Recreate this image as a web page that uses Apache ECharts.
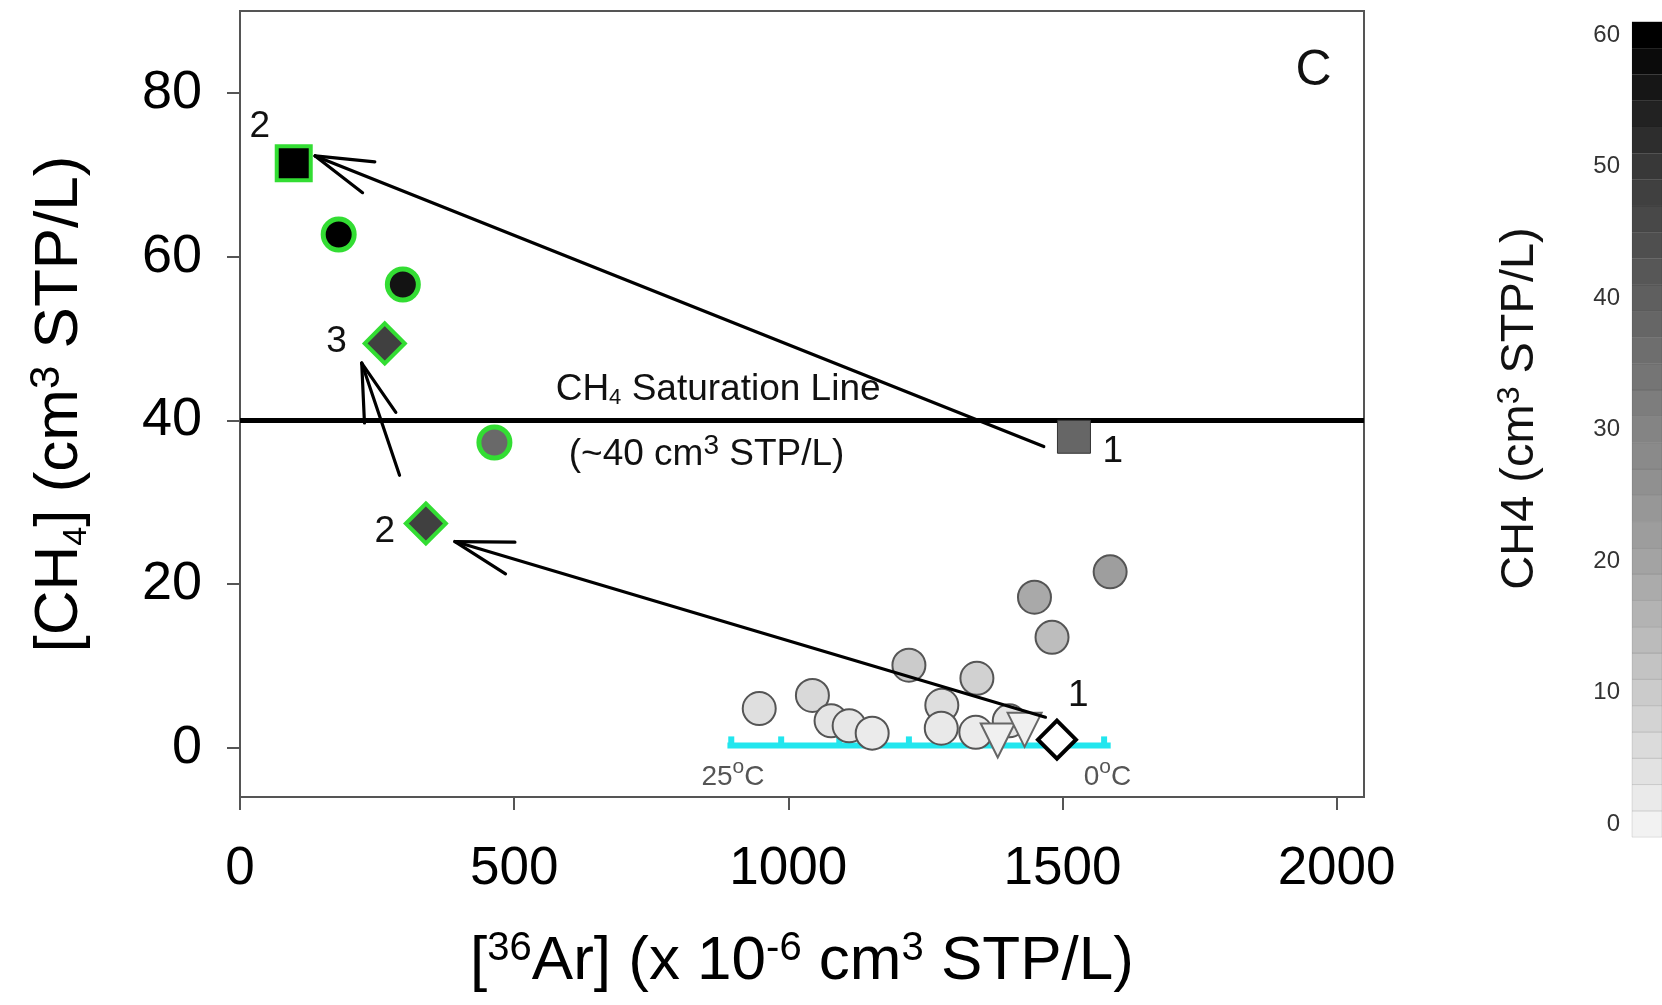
<!DOCTYPE html>
<html><head><meta charset="utf-8">
<script src="https://cdn.jsdelivr.net/npm/echarts@6/dist/echarts.min.js"></script>
<style>html,body{margin:0;padding:0;background:#fff}#c{width:1662px;height:1005px}</style>
</head><body><div id="c"></div>
<script>
// ---------- data ----------
// [36Ar] (x1e-6 cm3 STP/L) and [CH4] (cm3 STP/L)
const clusterAr  = [947, 1044, 1078, 1111, 1153, 1220, 1280, 1279, 1344, 1342, 1403, 1481, 1449, 1587];
const clusterCH4 = [4.8, 6.4, 3.3, 2.7, 1.8, 10.1, 5.2, 2.4, 8.5, 1.9, 3.3, 13.5, 18.4, 21.5];
const greenCircleAr  = [180, 297, 464];
const greenCircleCH4 = [62.7, 56.6, 37.3];
const squareStartAr  = [1521];
const squareStartCH4 = [38.0];
const squareEndAr    = [98];
const squareEndCH4   = [71.4];
const diamondStartAr  = [1490];
const diamondStartCH4 = [1.0];
const diamondLaterAr  = [339, 264];
const diamondLaterCH4 = [27.4, 49.4];
const triangleAr  = [1382, 1431];
const triangleCH4 = [0.9, 2.2];

// arrows (from -> to)
const arrowFromAr  = [1466, 1469, 291];
const arrowFromCH4 = [36.8, 3.75, 33.3];
const arrowToAr    = [137, 392, 222];
const arrowToCH4   = [72.3, 25.2, 47.0];

// CH4 saturation
const saturationCH4 = 40;

// air-saturated water line (25 -> 0 degC)
const solubilityLineAr  = [889, 1588];
const solubilityLineCH4 = [0.3, 0.3];
const tempTickAr  = [896, 987, 1093, 1220, 1385, 1576];
const tempTickCH4 = [0.3, 0.3, 0.3, 0.3, 0.3, 0.3];
const tempLabelAr  = [899, 1582];
const tempLabelCH4 = [-3.6, -3.6];
const tempLabelText = ['25', '0'];

// text annotations
const pointLabelAr  = [36, 176, 264, 1592, 1529];
const pointLabelCH4 = [75.9, 49.6, 26.4, 36.2, 6.4];
const pointLabelText = ['2', '3', '2', '1', '1'];
const satLabelAr  = [872, 851];
const satLabelCH4 = [43.7, 35.8];
const satLabelText = ['CH{sub|4} Saturation Line', '(~40 cm{sup|3} STP/L)'];
const panelLabelAr = [1958];
const panelLabelCH4 = [82.6];
const panelLabelText = ['C'];

// axes
const xTicks = [0, 500, 1000, 1500, 2000];
const yTicks = [0, 20, 40, 60, 80];
const xRange = [0, 2050];
const yRange = [-6, 90];

// colour bar
const colorbarTicks = [0, 10, 20, 30, 40, 50, 60];
const colorbarEdges = [-1, 1, 3, 5, 7, 9, 11, 13, 15, 17, 19, 21, 23, 25, 27, 29, 31,
                       33, 35, 37, 39, 41, 43, 45, 47, 49, 51, 53, 55, 57, 59, 61];
const grayRamp = ['#f2f2f2', '#cbcbcb', '#a3a3a3', '#848484', '#5f5f5f', '#383838', '#000000'];

// ---------- chart ----------
const FONT = 'Liberation Sans, Arial, Helvetica, sans-serif';
const GREEN = '#33dd33';

function pairs(xs, ys) { return xs.map((x, i) => [x, ys[i]]); }

function textSeries(name, xs, ys, texts, style, z) {
  return {
    type: 'custom', name: name, z: z || 20, silent: true,
    xAxisIndex: 0, yAxisIndex: 0,
    data: xs.map((x, i) => [x, ys[i]]),
    encode: { x: 0, y: 1 },
    renderItem: function (params, api) {
      const p = api.coord([api.value(0), api.value(1)]);
      return {
        type: 'text', x: p[0], y: p[1],
        style: Object.assign({
          text: texts[params.dataIndex], align: 'center', verticalAlign: 'middle',
          fontFamily: FONT, fill: '#111'
        }, style)
      };
    }
  };
}

const supSub = function (supSize, subSize, raise) {
  return {
    sup: { fontSize: supSize, verticalAlign: 'top', fontFamily: FONT, padding: [0, 0, raise, 0] },
    sub: { fontSize: subSize, verticalAlign: 'bottom', fontFamily: FONT }
  };
};

const series = [];

// 0: saturation line
series.push({
  type: 'line', name: 'saturation', z: 2, silent: true, symbol: 'none',
  xAxisIndex: 0, yAxisIndex: 0,
  data: [[xRange[0], saturationCH4], [xRange[1], saturationCH4]],
  lineStyle: { color: '#000', width: 5 }
});

// 1: solubility (temperature) line with ticks
series.push({
  type: 'line', name: 'solubility', z: 3, silent: true, symbol: 'none',
  xAxisIndex: 0, yAxisIndex: 0,
  data: pairs(solubilityLineAr, solubilityLineCH4),
  lineStyle: { color: '#22e6ee', width: 6 }
});
series.push({
  type: 'custom', name: 'tempTicks', z: 3, silent: true,
  xAxisIndex: 0, yAxisIndex: 0,
  data: pairs(tempTickAr, tempTickCH4),
  encode: { x: 0, y: 1 },
  renderItem: function (params, api) {
    const p = api.coord([api.value(0), api.value(1)]);
    const q = api.coord([api.value(0), api.value(1) + 1.1]);
    return { type: 'line', shape: { x1: p[0], y1: p[1], x2: q[0], y2: q[1] },
             style: { stroke: '#22e6ee', lineWidth: 6 } };
  }
});

// 3: cluster circles (colour mapped)
series.push({
  type: 'scatter', name: 'cluster', z: 4, symbol: 'circle', symbolSize: 33,
  xAxisIndex: 0, yAxisIndex: 0,
  data: pairs(clusterAr, clusterCH4),
  itemStyle: { borderColor: '#555', borderWidth: 2, opacity: 1 }
});
// 4: green-outlined circles (colour mapped)
series.push({
  type: 'scatter', name: 'greenCircles', z: 4, symbol: 'circle', symbolSize: 31,
  xAxisIndex: 0, yAxisIndex: 0,
  data: pairs(greenCircleAr, greenCircleCH4),
  itemStyle: { borderColor: GREEN, borderWidth: 5, opacity: 1 }
});
// 5: start square (colour mapped)
series.push({
  type: 'scatter', name: 'squareStart', z: 5, symbol: 'rect', symbolSize: 33,
  xAxisIndex: 0, yAxisIndex: 0,
  data: pairs(squareStartAr, squareStartCH4),
  itemStyle: { borderColor: '#333', borderWidth: 1, opacity: 1 }
});
// 6: end square (colour mapped)
series.push({
  type: 'scatter', name: 'squareEnd', z: 5, symbol: 'rect', symbolSize: 34,
  xAxisIndex: 0, yAxisIndex: 0,
  data: pairs(squareEndAr, squareEndCH4),
  itemStyle: { borderColor: GREEN, borderWidth: 4, opacity: 1 }
});
// 7: triangles
series.push({
  type: 'scatter', name: 'triangles', z: 6, symbol: 'triangle', symbolSize: 34, symbolRotate: 180,
  xAxisIndex: 0, yAxisIndex: 0,
  data: pairs(triangleAr, triangleCH4),
  itemStyle: { color: '#f0f0f0', borderColor: '#666', borderWidth: 2, opacity: 1 }
});
// 8: start diamond
series.push({
  type: 'scatter', name: 'diamondStart', z: 7, symbol: 'diamond', symbolSize: 38,
  xAxisIndex: 0, yAxisIndex: 0,
  data: pairs(diamondStartAr, diamondStartCH4),
  itemStyle: { color: '#ffffff', borderColor: '#000', borderWidth: 4, opacity: 1 }
});
// 9: later diamonds
series.push({
  type: 'scatter', name: 'diamondLater', z: 7, symbol: 'diamond', symbolSize: 40,
  xAxisIndex: 0, yAxisIndex: 0,
  data: pairs(diamondLaterAr, diamondLaterCH4),
  itemStyle: { color: '#404040', borderColor: GREEN, borderWidth: 4, opacity: 1 }
});
// 10: arrows
series.push({
  type: 'custom', name: 'arrows', z: 8, silent: true,
  xAxisIndex: 0, yAxisIndex: 0,
  data: arrowFromAr.map((x, i) => [x, arrowFromCH4[i], arrowToAr[i], arrowToCH4[i]]),
  encode: { x: [0, 2], y: [1, 3] },
  renderItem: function (params, api) {
    const a = api.coord([api.value(0), api.value(1)]);
    const b = api.coord([api.value(2), api.value(3)]);
    const ang = Math.atan2(a[1] - b[1], a[0] - b[0]);
    const L = 60, h = 16 * Math.PI / 180;
    const st = { stroke: '#000', lineWidth: 3.2, lineCap: 'round' };
    return { type: 'group', children: [
      { type: 'line', shape: { x1: a[0], y1: a[1], x2: b[0], y2: b[1] }, style: st },
      { type: 'line', shape: { x1: b[0], y1: b[1], x2: b[0] + L * Math.cos(ang + h), y2: b[1] + L * Math.sin(ang + h) }, style: st },
      { type: 'line', shape: { x1: b[0], y1: b[1], x2: b[0] + L * Math.cos(ang - h), y2: b[1] + L * Math.sin(ang - h) }, style: st }
    ] };
  }
});
// 11: colour bar
series.push({
  type: 'custom', name: 'colorbar', z: 2, silent: true,
  xAxisIndex: 1, yAxisIndex: 1,
  data: colorbarEdges.slice(0, -1).map((lo, i) => [0, (lo + colorbarEdges[i + 1]) / 2, lo, colorbarEdges[i + 1]]),
  encode: { x: 0, y: 1 },
  renderItem: function (params, api) {
    const p0 = api.coord([0, api.value(3)]);
    const p1 = api.coord([1, api.value(2)]);
    return { type: 'rect', shape: { x: p0[0], y: p0[1], width: p1[0] - p0[0], height: p1[1] - p0[1] },
             style: { fill: api.visual('color'), stroke: 'rgba(0,0,0,0.10)', lineWidth: 1 } };
  }
});

// text annotations
series.push(textSeries('pointLabels', pointLabelAr, pointLabelCH4, pointLabelText, { fontSize: 37 }));
series.push(textSeries('satLabels', satLabelAr, satLabelCH4, satLabelText, { fontSize: 37, rich: supSub(28, 22, 16) }));
series.push(textSeries('panel', panelLabelAr, panelLabelCH4, panelLabelText, { fontSize: 50 }));
series.push(textSeries('tempLabels', tempLabelAr, tempLabelCH4, tempLabelText.map(t => t + '{sup|o}C'),
  { fontSize: 28, fill: '#555', rich: { sup: { fontSize: 21, verticalAlign: 'top', fontFamily: FONT, fill: '#555', padding: [0, 0, 20, 0] } } }));

const option = {
  animation: false,
  backgroundColor: '#fff',
  grid: [
    { left: 240, right: 298, top: 11, bottom: 208, show: true, borderColor: '#555', borderWidth: 2, backgroundColor: 'transparent' },
    { left: 1632, width: 50, top: 35, bottom: 181 }
  ],
  xAxis: [
    {
      type: 'value', gridIndex: 0, min: xRange[0], max: xRange[1],
      axisLine: { show: true, onZero: false, lineStyle: { color: '#555', width: 2 } },
      axisTick: { show: true, length: 13, customValues: xTicks, lineStyle: { color: '#555', width: 2 } },
      axisLabel: { customValues: xTicks, fontSize: 53, color: '#000', margin: 46, fontFamily: FONT,
                   formatter: function (v) { return String(v); } },
      splitLine: { show: false },
      name: '[{sup|36}Ar] (x 10{sup|-6} cm{sup|3} STP/L)',
      nameLocation: 'middle', nameGap: 132,
      nameTextStyle: { fontSize: 62, color: '#000', fontFamily: FONT, rich: supSub(40, 36, 26) }
    },
    { type: 'value', gridIndex: 1, min: 0, max: 1, show: false }
  ],
  yAxis: [
    {
      type: 'value', gridIndex: 0, min: yRange[0], max: yRange[1],
      axisLine: { show: true, onZero: false, lineStyle: { color: '#555', width: 2 } },
      axisTick: { show: true, length: 13, customValues: yTicks, lineStyle: { color: '#555', width: 2 } },
      axisLabel: { customValues: yTicks, fontSize: 54, color: '#000', margin: 38, fontFamily: FONT },
      splitLine: { show: false },
      name: '[CH{sub|4}] (cm{sup|3} STP/L)',
      nameLocation: 'middle', nameRotate: 90, nameGap: 146,
      nameTextStyle: { fontSize: 62, color: '#000', fontFamily: FONT, rich: supSub(42, 34, 26) }
    },
    {
      type: 'value', gridIndex: 1, min: 0, max: 60, interval: 10,
      axisLine: { show: false }, axisTick: { show: false }, splitLine: { show: false },
      axisLabel: { fontSize: 24, color: '#333', margin: 12, fontFamily: FONT },
      name: 'CH4 (cm{sup|3} STP/L)',
      nameLocation: 'middle', nameRotate: 90, nameGap: 86,
      nameTextStyle: { fontSize: 47, color: '#111', fontFamily: FONT, padding: [0, 0, 0, 42],
                       rich: { sup: { fontSize: 32, verticalAlign: 'top', fontFamily: FONT, padding: [0, 0, 20, 0] } } }
    }
  ],
  visualMap: {
    type: 'continuous', show: false, dimension: 1, min: 0, max: 60,
    seriesIndex: [3, 4, 5, 6, 11],
    inRange: { color: grayRamp }
  },
  series: series
};

const chart = echarts.init(document.getElementById('c'), null, { renderer: 'canvas' });
chart.setOption(option);
</script>
</body></html>
